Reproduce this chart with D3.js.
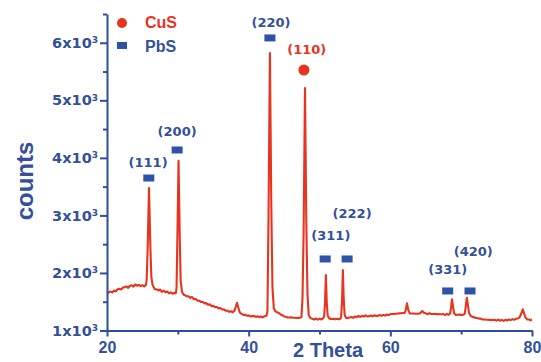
<!DOCTYPE html>
<html>
<head>
<meta charset="utf-8">
<script src="https://cdn.jsdelivr.net/npm/d3@7"></script>
<style>
  body { margin: 0; background: #fff; }
  svg { display: block; }
  .axis path, .axis line { stroke: #2f4d9e; stroke-width: 2; fill: none; }
  .y-axis text { font-family: "DejaVu Sans", sans-serif; font-weight: bold; font-size: 14.5px; fill: #34509a; }
  .x-axis text { font-family: "Liberation Sans", Arial, sans-serif; font-weight: bold; font-size: 16px; fill: #34509a; }
  .title { font-family: "Liberation Sans", Arial, sans-serif; font-weight: bold; fill: #34509a; }
  .hkl { font-family: "DejaVu Sans", sans-serif; font-weight: bold; font-size: 13px; text-anchor: middle; }
</style>
</head>
<body>
<script>
// axis ticks
var yMajor = [1000, 2000, 3000, 4000, 5000, 6000];
var yMinor = [1500, 2500, 3500, 4500, 5500, 6500];
var xMajor = [20, 40, 60, 80];
var xMinor = [30, 50, 70];

// xrd pattern, [2 theta, counts]
var pattern = [
  [20.00, 1648], [20.25, 1664], [20.50, 1676], [20.75, 1662], [21.00, 1694], [21.25, 1680],
  [21.50, 1716], [21.75, 1724], [22.00, 1712], [22.25, 1748], [22.50, 1754], [22.75, 1766],
  [23.00, 1742], [23.25, 1778], [23.50, 1786], [23.75, 1764], [24.00, 1800], [24.25, 1778],
  [24.50, 1794], [24.75, 1772], [25.00, 1790], [25.25, 1766], [25.50, 1792], [25.60, 1880],
  [25.74, 2420], [25.93, 3477], [26.12, 2470], [26.26, 1930], [26.43, 1792], [26.75, 1718],
  [27.00, 1716], [27.25, 1696], [27.50, 1712], [27.75, 1672], [28.00, 1694], [28.25, 1664],
  [28.50, 1676], [28.75, 1646], [29.00, 1664], [29.25, 1638], [29.50, 1654], [29.72, 1650],
  [29.82, 1740], [29.93, 2560], [30.10, 3950], [30.27, 2620], [30.40, 1860], [30.60, 1664],
  [30.85, 1618], [31.00, 1616], [31.25, 1594], [31.50, 1596], [31.75, 1566], [32.00, 1582],
  [32.25, 1546], [32.50, 1548], [32.75, 1520], [33.00, 1520], [33.25, 1496], [33.50, 1500],
  [33.75, 1472], [34.00, 1476], [34.25, 1446], [34.50, 1454], [34.75, 1424], [35.00, 1428],
  [35.25, 1406], [35.50, 1408], [35.75, 1384], [36.00, 1390], [36.25, 1364], [36.50, 1368],
  [36.75, 1344], [37.00, 1348], [37.25, 1324], [37.50, 1334], [37.75, 1316], [38.00, 1345],
  [38.20, 1420], [38.35, 1483], [38.55, 1395], [38.75, 1314], [39.00, 1288], [39.25, 1272],
  [39.50, 1274], [39.75, 1258], [40.00, 1262], [40.25, 1246], [40.50, 1250], [40.75, 1254],
  [41.00, 1236], [41.25, 1248], [41.50, 1232], [41.75, 1244], [42.00, 1228], [42.25, 1248],
  [42.50, 1256], [42.65, 1330], [42.80, 2950], [43.00, 5823], [43.20, 3120], [43.36, 1740],
  [43.55, 1390], [43.75, 1338], [44.00, 1316], [44.25, 1304], [44.50, 1278], [44.75, 1266],
  [45.00, 1244], [45.25, 1240], [45.50, 1226], [45.75, 1226], [46.00, 1228], [46.25, 1222],
  [46.50, 1222], [46.75, 1218], [47.00, 1220], [47.25, 1222], [47.45, 1232], [47.60, 1560],
  [47.76, 2720], [47.95, 5215], [48.14, 2860], [48.30, 1640], [48.48, 1265], [48.75, 1212],
  [49.00, 1204], [49.25, 1192], [49.50, 1208], [49.75, 1188], [50.00, 1204], [50.25, 1192],
  [50.50, 1210], [50.65, 1240], [50.78, 1480], [50.90, 1965], [51.02, 1500], [51.15, 1260],
  [51.35, 1214], [51.60, 1200], [51.85, 1202], [52.00, 1204], [52.25, 1194], [52.50, 1206],
  [52.75, 1196], [53.00, 1212], [53.05, 1235], [53.18, 1500], [53.30, 2051], [53.42, 1540],
  [53.55, 1270], [53.75, 1220], [54.00, 1218], [54.25, 1226], [54.50, 1236], [54.75, 1220],
  [55.00, 1244], [55.25, 1232], [55.50, 1252], [55.75, 1236], [56.00, 1256], [56.25, 1242],
  [56.50, 1262], [56.75, 1246], [57.00, 1248], [57.25, 1260], [57.50, 1246], [57.75, 1266],
  [58.00, 1252], [58.25, 1254], [58.50, 1268], [58.75, 1254], [59.00, 1272], [59.25, 1258],
  [59.50, 1278], [59.75, 1266], [60.00, 1286], [60.25, 1286], [60.50, 1288], [60.75, 1292],
  [61.00, 1294], [61.25, 1298], [61.50, 1300], [61.75, 1304], [62.00, 1306], [62.15, 1340],
  [62.35, 1473], [62.55, 1350], [62.75, 1296], [63.00, 1296], [63.25, 1296], [63.50, 1292],
  [63.75, 1292], [64.00, 1294], [64.25, 1302], [64.50, 1340], [64.75, 1308], [65.00, 1298],
  [65.25, 1282], [65.50, 1302], [65.75, 1286], [66.00, 1288], [66.25, 1290], [66.50, 1284],
  [66.75, 1284], [67.00, 1282], [67.25, 1282], [67.50, 1284], [67.75, 1268], [68.00, 1288],
  [68.25, 1274], [68.45, 1300], [68.58, 1400], [68.70, 1542], [68.85, 1420], [69.00, 1300],
  [69.25, 1270], [69.50, 1274], [69.75, 1276], [70.00, 1272], [70.25, 1272], [70.50, 1290],
  [70.65, 1420], [70.80, 1570], [70.95, 1440], [71.10, 1310], [71.35, 1252], [71.60, 1236],
  [71.85, 1234], [72.00, 1218], [72.25, 1218], [72.50, 1206], [72.75, 1206], [73.00, 1192],
  [73.25, 1192], [73.50, 1188], [73.75, 1186], [74.00, 1184], [74.25, 1182], [74.50, 1182],
  [74.75, 1184], [75.00, 1172], [75.25, 1188], [75.50, 1170], [75.75, 1184], [76.00, 1168],
  [76.25, 1186], [76.50, 1174], [76.75, 1192], [77.00, 1180], [77.25, 1198], [77.50, 1186],
  [77.75, 1204], [78.00, 1210], [78.25, 1230], [78.50, 1300], [78.70, 1368], [78.90, 1290],
  [79.10, 1220], [79.35, 1192], [79.60, 1190], [79.80, 1178], [80.00, 1190]
];

// pbs reflections: marker and label anchors in data units
var pbsHkl = ['(111)', '(200)', '(220)', '(311)', '(222)', '(331)', '(420)'];
var pbsMarkTheta = [25.9, 29.9, 43.0, 50.8, 53.9, 68.1, 71.25];
var pbsMarkCounts = [3650, 4137, 6084, 2243, 2243, 1687, 1687];
var pbsLabelTheta = [25.8, 29.9, 43.15, 51.6, 54.6, 68.1, 71.7];
var pbsLabelCounts = [3842, 4380, 6275, 2573, 2955, 1982, 2295];

// cus reflection
var cusHkl = ['(110)'];
var cusMarkTheta = [47.8];
var cusMarkCounts = [5527];
var cusLabelTheta = [48.2];
var cusLabelCounts = [5806];

var legendNames = ['CuS', 'PbS'];

var width = 541, height = 362;
var red = '#e8341f', blue = '#2d52a6', textBlue = '#34509a';

var svg = d3.select('body').append('svg')
  .attr('width', width)
  .attr('height', height);

var x = d3.scaleLinear().domain([20, 80]).range([107, 532]);
var y = d3.scaleLinear().domain([1000, 6500]).range([330.5, 14]);

// the pattern itself
var line = d3.line()
  .x(function(d) { return x(d[0]); })
  .y(function(d) { return y(d[1]); });

svg.append('path')
  .datum(pattern)
  .attr('d', line)
  .attr('fill', 'none')
  .attr('stroke', red)
  .attr('stroke-width', 2.1)
  .attr('stroke-linejoin', 'round');

// minor ticks first, majors on top
svg.append('g')
  .attr('class', 'axis y-axis')
  .attr('transform', 'translate(' + x(20) + ',0)')
  .call(d3.axisLeft(y).tickValues(yMinor).tickSize(4).tickFormat(''))
  .select('.domain').remove();

var yAxis = svg.append('g')
  .attr('class', 'axis y-axis')
  .attr('transform', 'translate(' + x(20) + ',0)')
  .call(d3.axisLeft(y).tickValues(yMajor).tickSize(7).tickSizeOuter(0).tickPadding(2));

// 6x10^3 style labels
yAxis.selectAll('.tick text').each(function(d) {
  var t = d3.select(this).text(null);
  t.append('tspan').text((d / 1000) + 'x10');
  t.append('tspan').attr('dy', '-0.55em').attr('font-size', '9px').text('3');
});

svg.append('g')
  .attr('class', 'axis x-axis')
  .attr('transform', 'translate(0,' + y(1000) + ')')
  .call(d3.axisBottom(x).tickValues(xMinor).tickSize(4).tickFormat(''))
  .select('.domain').remove();

svg.append('g')
  .attr('class', 'axis x-axis')
  .attr('transform', 'translate(0,' + y(1000) + ')')
  .call(d3.axisBottom(x).tickValues(xMajor).tickSize(6).tickSizeOuter(0).tickPadding(5));

// axis titles
svg.append('text')
  .attr('class', 'title')
  .attr('x', 328)
  .attr('y', 357)
  .attr('text-anchor', 'middle')
  .style('font-size', '20px')
  .text('2 Theta');

svg.append('text')
  .attr('class', 'title')
  .attr('transform', 'translate(33,181) rotate(-90)')
  .attr('text-anchor', 'middle')
  .style('font-size', '24px')
  .text('counts');

// pbs markers and labels
svg.selectAll('.pbs-mark')
  .data(pbsHkl)
  .enter().append('rect')
  .attr('class', 'pbs-mark')
  .attr('x', function(d, i) { return x(pbsMarkTheta[i]) - 5.5; })
  .attr('y', function(d, i) { return y(pbsMarkCounts[i]) - 3.5; })
  .attr('width', 11)
  .attr('height', 7)
  .attr('fill', blue);

svg.selectAll('.pbs-label')
  .data(pbsHkl)
  .enter().append('text')
  .attr('class', 'hkl pbs-label')
  .attr('x', function(d, i) { return x(pbsLabelTheta[i]); })
  .attr('y', function(d, i) { return y(pbsLabelCounts[i]); })
  .attr('fill', textBlue)
  .text(function(d) { return d; });

// cus marker and label
svg.selectAll('.cus-mark')
  .data(cusHkl)
  .enter().append('circle')
  .attr('class', 'cus-mark')
  .attr('cx', function(d, i) { return x(cusMarkTheta[i]); })
  .attr('cy', function(d, i) { return y(cusMarkCounts[i]); })
  .attr('r', 5.5)
  .attr('fill', red);

svg.selectAll('.cus-label')
  .data(cusHkl)
  .enter().append('text')
  .attr('class', 'hkl cus-label')
  .attr('x', function(d, i) { return x(cusLabelTheta[i]); })
  .attr('y', function(d, i) { return y(cusLabelCounts[i]); })
  .attr('fill', red)
  .text(function(d) { return d; });

// legend, top left inside the plot
var legend = svg.append('g');
legend.append('circle')
  .attr('cx', 122).attr('cy', 23).attr('r', 5)
  .attr('fill', red);
legend.append('rect')
  .attr('x', 117).attr('y', 42).attr('width', 10).attr('height', 7)
  .attr('fill', blue);
legend.selectAll('text')
  .data(legendNames)
  .enter().append('text')
  .attr('class', 'title')
  .attr('x', 145)
  .attr('y', function(d, i) { return 28 + i * 24; })
  .style('font-size', '16px')
  .style('fill', function(d, i) { return i === 0 ? red : textBlue; })
  .text(function(d) { return d; });
</script>
</body>
</html>
